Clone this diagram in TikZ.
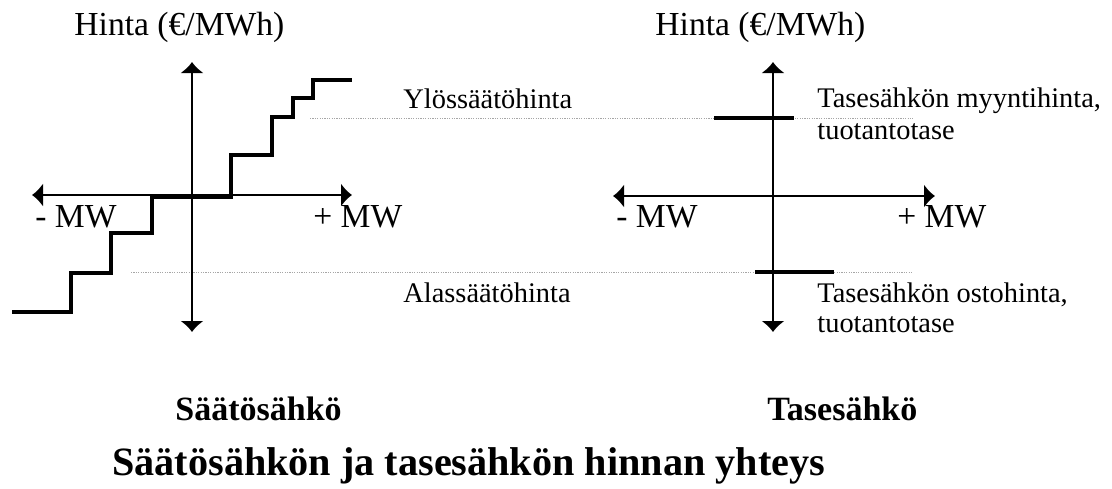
\documentclass[tikz,border=0pt]{standalone}
\usepackage{fontspec}
\setmainfont{Liberation Serif}
\usetikzlibrary{arrows.meta}
\begin{document}
\begin{tikzpicture}[x=0.5pt,y=-0.5pt,
  axis/.style={line width=1.25pt,{Latex[length=5.5pt,width=12pt]}-{Latex[length=5.5pt,width=12pt]}},
  curve/.style={line width=2.3pt,line join=miter},
  bar/.style={line width=2.4pt},
  guide/.style={line width=0.5pt,gray!70,dash pattern=on 0.6pt off 0.6pt},
  lbl/.style={inner sep=0pt,anchor=base west,font=\fontsize{16.8}{20}\selectfont},
  small/.style={inner sep=0pt,anchor=base west,font=\fontsize{14.2}{16}\selectfont},
  head/.style={inner sep=0pt,anchor=base west,font=\fontsize{17}{20}\selectfont\bfseries},
  title/.style={inner sep=0pt,anchor=base west,font=\fontsize{20.1}{24}\selectfont\bfseries}]
\useasboundingbox (0,0) rectangle (1112,488);

% guide (dotted) lines
\coordinate (gu1) at (310,118);
\coordinate (gu2) at (913,118);
\coordinate (gl1) at (131,272);
\coordinate (gl2) at (913,272);
\draw[guide] (gu1) -- (gu2);
\draw[guide] (gl1) -- (gl2);

% left axes
\coordinate (Ltop) at (192,62);
\coordinate (Lbot) at (192,332);
\coordinate (Lleft) at (32,195);
\coordinate (Lright) at (352,195);
\draw[axis] (Lbot) -- (Ltop);
\draw[axis] (Lleft) -- (Lright);

% staircase
\draw[curve] (12,312) -- (71,312) -- (71,273) -- (111,273) -- (111,233) -- (152,233)
  -- (152,196.5) -- (231,196.5) -- (231,155) -- (272,155) -- (272,117) -- (293,117)
  -- (293,98) -- (313,98) -- (313,80) -- (352,80);

% right axes
\coordinate (Rtop) at (773,62);
\coordinate (Rbot) at (773,332);
\coordinate (Rleft) at (613,196);
\coordinate (Rright) at (935,196);
\draw[axis] (Rbot) -- (Rtop);
\draw[axis] (Rleft) -- (Rright);

% bars
\coordinate (bu1) at (714,118);
\coordinate (bu2) at (794,118);
\coordinate (bl1) at (755,272);
\coordinate (bl2) at (834,272);
\draw[bar] (bu1) -- (bu2);
\draw[bar] (bl1) -- (bl2);

% texts
\node[lbl] (hL) at (74,35) {Hinta (€/MWh)};
\node[lbl] (hR) at (655,35) {Hinta (€/MWh)};
\node[lbl] (mL1) at (35,227) {- MW};
\node[lbl] (pL1) at (313,227) {+ MW};
\node[lbl] (mR1) at (616,227) {- MW};
\node[lbl] (pR1) at (897,227) {+ MW};

\node[small] (ylos) at (403,108) {Ylössäätöhinta};
\node[small] (alas) at (403,302) {Alassäätöhinta};
\node[small] (ts1) at (817,107) {Tasesähkön myyntihinta,};
\node[small] (ts2) at (817,139) {tuotantotase};
\node[small] (ts3) at (817,302) {Tasesähkön ostohinta,};
\node[small] (ts4) at (817,332) {tuotantotase};

\node[head] (saato) at (175,420) {Säätösähkö};
\node[head] (tase) at (767,420) {Tasesähkö};
\node[title] (ttl) at (112,475) {Säätösähkön ja tasesähkön hinnan yhteys};
\end{tikzpicture}
\end{document}
